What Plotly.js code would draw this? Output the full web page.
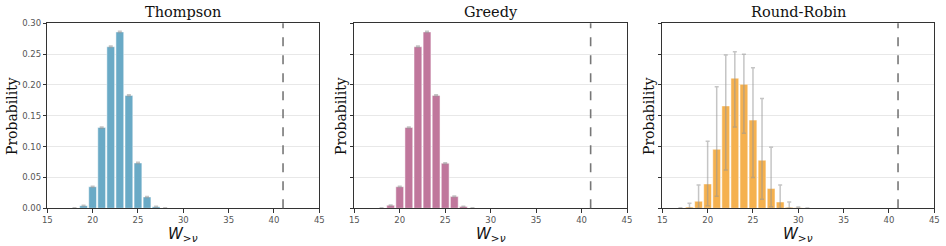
<!DOCTYPE html>
<html><head><meta charset="utf-8">
<script src="https://cdn.plot.ly/plotly-3.0.1.min.js"></script>
<style>html,body{margin:0;padding:0;background:#fff;}#c{width:946px;height:246px;}</style>
</head><body><div id="c"></div>
<script>
// ---- data ----
const titles = ["Thompson", "Greedy", "Round-Robin"];
const colors = ["#6aaac6", "#c0779c", "#f5b14f"];
const threshold = 41;

const thompsonX = [18, 19, 20, 21, 22, 23, 24, 25, 26, 27, 28];
const thompsonY = [0.0005, 0.0043, 0.035, 0.131, 0.262, 0.286, 0.183, 0.0735, 0.0184, 0.0027, 0.0005];
const thompsonErr = [0.0004, 0.0006, 0.0008, 0.001, 0.001, 0.001, 0.001, 0.001, 0.0008, 0.0005, 0.0003];

const greedyX = [18, 19, 20, 21, 22, 23, 24, 25, 26, 27, 28];
const greedyY = [0.0005, 0.0049, 0.035, 0.131, 0.262, 0.286, 0.183, 0.073, 0.019, 0.003, 0.0005];
const greedyErr = [0.0004, 0.0006, 0.0008, 0.001, 0.001, 0.001, 0.001, 0.001, 0.0008, 0.0005, 0.0003];

const rrX = [17, 18, 19, 20, 21, 22, 23, 24, 25, 26, 27, 28, 29, 30, 31];
const rrY = [0.0005, 0.002, 0.0114, 0.0395, 0.0957, 0.166, 0.211, 0.201, 0.143, 0.078, 0.032, 0.0102, 0.0016, 0.0008, 0.0003];
const rrUpper = [0.001, 0.0081, 0.0378, 0.1086, 0.197, 0.2486, 0.254, 0.2497, 0.228, 0.178, 0.099, 0.0378, 0.0102, 0.002, 0.0005];
const rrLower = [0, 0, 0, 0.0043, 0.0195, 0.0622, 0.132, 0.1216, 0.050, 0.0146, 0.0027, 0, 0, 0, 0];

const yTickVals = [0, 0.05, 0.10, 0.15, 0.20, 0.25, 0.30];
const yTickText = ["0.00", "0.05", "0.10", "0.15", "0.20", "0.25", "0.30"];
const xTickVals = [15, 20, 25, 30, 35, 40, 45];

// ---- layout helpers ----
const W = 946, H = 246;
const xPix = [[47.3, 319.3], [354.3, 627], [662.3, 934.3]];
const yDom = [(H - 208.3) / H, (H - 23.3) / H];
const errColor = "rgba(150,150,150,0.55)";

const rrPlus = rrY.map((v, i) => rrUpper[i] - v);
const rrMinus = rrY.map((v, i) => v - rrLower[i]);

function barTrace(x, y, color, ax, err) {
  return {
    type: "bar", x: x, y: y, xaxis: "x" + (ax === 1 ? "" : ax), yaxis: "y" + (ax === 1 ? "" : ax),
    width: 0.86,
    marker: {color: color, line: {color: "#ffffff", width: 0.5}},
    error_y: Object.assign({type: "data", color: errColor, thickness: 1.5, width: 2}, err),
    showlegend: false, hoverinfo: "x+y"
  };
}

const data = [
  barTrace(thompsonX, thompsonY, colors[0], 1, {array: thompsonErr}),
  barTrace(greedyX, greedyY, colors[1], 2, {array: greedyErr}),
  barTrace(rrX, rrY, colors[2], 3, {symmetric: false, array: rrPlus, arrayminus: rrMinus})
];

const layout = {
  width: W, height: H, margin: {l: 0, r: 0, t: 0, b: 0},
  paper_bgcolor: "#fff", plot_bgcolor: "#fff",
  bargap: 0, shapes: [], annotations: []
};

const tickFont = {family: "DejaVu Sans", size: 8.5, color: "#555"};
for (let i = 0; i < 3; i++) {
  const n = i === 0 ? "" : String(i + 1);
  layout["xaxis" + n] = {
    domain: [xPix[i][0] / W, xPix[i][1] / W], anchor: "y" + n,
    range: [15, 45], tickvals: xTickVals, ticks: "outside", ticklen: 3.5, tickcolor: "#333",
    showgrid: false, zeroline: false, showline: true, linecolor: "#333", linewidth: 1, mirror: true,
    tickfont: tickFont, fixedrange: true
  };
  layout["yaxis" + n] = {
    domain: yDom, anchor: "x" + n,
    range: [0, 0.30], tickvals: yTickVals, ticktext: yTickText, showticklabels: i === 0,
    ticks: "outside", ticklen: 3.5, tickcolor: "#333",
    showgrid: true, gridcolor: "#e8e8e8", gridwidth: 1, zeroline: false,
    showline: true, linecolor: "#333", linewidth: 1, mirror: true,
    tickfont: tickFont, fixedrange: true
  };
  layout.shapes.push({
    type: "line", xref: "x" + n, yref: "y" + n + " domain",
    x0: threshold, x1: threshold, y0: 0, y1: 1,
    line: {color: "#777", width: 1.6, dash: "dash"}
  });
  const cx = (xPix[i][0] + xPix[i][1]) / 2 / W;
  layout.annotations.push({
    text: titles[i], xref: "paper", yref: "paper", x: cx, y: (H - 12) / H,
    xanchor: "center", yanchor: "middle", showarrow: false,
    font: {family: "DejaVu Serif", size: 14.5, color: "#111"}
  });
  layout.annotations.push({
    text: "<i>W</i><sub>&gt;<i>ν</i></sub>", xref: "paper", yref: "paper", x: cx, y: (H - 234) / H,
    xanchor: "center", yanchor: "middle", showarrow: false,
    font: {family: "DejaVu Sans", size: 15, color: "#111"}
  });
  const yx = [12, 341, 649][i];
  layout.annotations.push({
    text: "Probability", xref: "paper", yref: "paper", x: yx / W, y: (H - 116) / H,
    xanchor: "center", yanchor: "middle", showarrow: false, textangle: -90,
    font: {family: "DejaVu Serif", size: 14, color: "#111"}
  });
}

Plotly.newPlot("c", data, layout, {displayModeBar: false, staticPlot: true});
</script>
</body></html>
